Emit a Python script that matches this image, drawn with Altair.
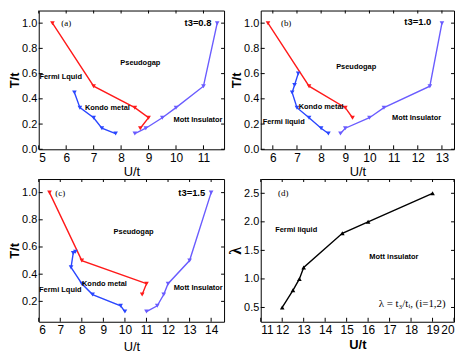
import altair as alt
import pandas as pd

FONT = "Liberation Sans"
SERIF = "Liberation Serif"
RED = "#ff1a1a"
BLUE = "#2a46ff"
PURPLE = "#6a5cff"

# ---------------- panel (a) t3=0.8 ----------------
a_red_x = [5.5, 7.0, 8.5, 9.0, 8.7]
a_red_y = [1.0, 0.5, 0.33, 0.25, 0.167]
a_blue_x = [6.3, 6.5, 7.0, 7.3, 7.8]
a_blue_y = [0.45, 0.33, 0.25, 0.167, 0.125]
a_pur_x = [8.5, 8.9, 9.5, 10.0, 11.0, 11.5]
a_pur_y = [0.125, 0.167, 0.25, 0.33, 0.5, 1.0]

# ---------------- panel (b) t3=1.0 ----------------
b_red_x = [5.8, 7.5, 9.0, 9.3]
b_red_y = [1.0, 0.5, 0.33, 0.25]
b_blue_x = [7.05, 6.9, 6.8, 7.0, 7.5, 8.0, 8.3]
b_blue_y = [0.6, 0.51, 0.45, 0.33, 0.25, 0.167, 0.125]
b_pur_x = [8.8, 9.0, 10.0, 10.6, 12.5, 13.0]
b_pur_y = [0.125, 0.167, 0.25, 0.33, 0.5, 1.0]

# ---------------- panel (c) t3=1.5 ----------------
c_red_x = [6.5, 8.0, 11.0, 10.8]
c_red_y = [1.0, 0.5, 0.33, 0.25]
c_blue_x = [7.7, 7.6, 7.5, 8.0, 8.5, 9.8, 10.0]
c_blue_y = [0.565, 0.555, 0.45, 0.33, 0.25, 0.167, 0.125]
c_pur_x = [11.0, 11.5, 11.8, 12.0, 13.0, 14.0]
c_pur_y = [0.125, 0.167, 0.25, 0.33, 0.5, 1.0]

# ---------------- panel (d) lambda ----------------
d_x = [12.0, 12.5, 12.8, 13.0, 14.8, 16.0, 19.0]
d_y = [0.5, 0.8, 1.0, 1.2, 1.8, 2.0, 2.5]

# tick values
a_xt = [5, 6, 7, 8, 9, 10, 11]
b_xt = [6, 7, 8, 9, 10, 11, 12, 13]
c_xt = [6, 7, 8, 9, 10, 11, 12, 13, 14]
d_xt = [11, 12, 13, 14, 15, 16, 17, 18, 19, 20]
ab_yt = [0.0, 0.2, 0.4, 0.6, 0.8, 1.0]
c_yt = [0.2, 0.4, 0.6, 0.8, 1.0]
d_yt = [0.5, 1.0, 1.5, 2.0, 2.5]

# region labels: (text, x, y)
a_labels = [("Pseudogap", 8.7, 0.68), ("Fermi Lquid", 5.8, 0.57),
            ("Kondo metal", 7.5, 0.33), ("Mott Insulator", 10.8, 0.23)]
b_labels = [("Pseudogap", 9.45, 0.65), ("Fermi liquid", 6.45, 0.22),
            ("Kondo metal", 8.0, 0.335), ("Mott Insulator", 11.95, 0.25)]
c_labels = [("Pseudogap", 10.4, 0.71), ("Fermi Lquid", 7.0, 0.28),
            ("Kondo metal", 9.05, 0.33), ("Mott Insulator", 13.4, 0.295)]
d_labels = [("Fermi liquid", 12.65, 1.85), ("Mott insulator", 17.2, 1.38)]

# parameter labels: (text, x, y)
a_param = ("t3=0.8", 10.8, 1.0)
b_param = ("t3=1.0", 12.0, 1.01)
c_param = ("t3=1.5", 13.1, 1.0)

tags = [("(a)", 6.0, 1.0), ("(b)", 6.55, 1.0), ("(c)", 7.0, 1.0), ("(d)", 12.05, 2.5)]


def text_layer(items, xenc, yenc, **kw):
    df = pd.DataFrame({"label": [t[0] for t in items], "x": [t[1] for t in items],
                       "y": [t[2] for t in items]})
    return alt.Chart(df).mark_text(color="black", **kw).encode(x=xenc, y=yenc, text="label:N")


def make_panel(series, xdom, ydom, xt, yt, yfmt, w, h, tag, labels, param=None,
               ytitle="T/t", ytfont=FONT, ytsize=13, xtitle_bold=False, xtitle_pad=2,
               shape="triangle-down", extra=None):
    xenc = alt.X("x:Q", scale=alt.Scale(domain=xdom, nice=False, zero=False),
                 axis=alt.Axis(values=xt, format="d", title="U/t",
                               titleFontWeight="bold" if xtitle_bold else "normal",
                               titlePadding=xtitle_pad, labelFontSize=12, labelPadding=3))
    yenc = alt.Y("y:Q", scale=alt.Scale(domain=ydom, nice=False, zero=False),
                 axis=alt.Axis(values=yt, format=yfmt, title=ytitle, titleFont=ytfont,
                               titleFontSize=ytsize, titlePadding=0, labelFontSize=11,
                               labelPadding=2))
    rows = []
    for name, xs, ys, col in series:
        for i, (xv, yv) in enumerate(zip(xs, ys)):
            rows.append({"x": xv, "y": yv, "s": name, "i": i})
    df = pd.DataFrame(rows)
    names = [s[0] for s in series]
    cols = [s[3] for s in series]
    lines = alt.Chart(df).mark_line(
        strokeWidth=1.4, clip=True,
        point=alt.OverlayMarkDef(shape=shape, filled=True, size=22)
    ).encode(x=xenc, y=yenc, order="i:Q",
             color=alt.Color("s:N", scale=alt.Scale(domain=names, range=cols), legend=None),
             detail="s:N")

    texts = text_layer(labels, xenc, yenc, font=FONT, fontWeight="bold", fontSize=7.5)
    tagt = text_layer([tag], xenc, yenc, font=SERIF, fontSize=9)

    xtdf = pd.DataFrame({"x": xt})
    ytdf = pd.DataFrame({"y": yt})
    tb = alt.Chart(xtdf).mark_rule(color="black", strokeWidth=1).encode(
        x=xenc, y=alt.value(h), y2=alt.value(h - 4))
    tt = alt.Chart(xtdf).mark_rule(color="black", strokeWidth=1).encode(
        x=xenc, y=alt.value(0), y2=alt.value(3))
    tl = alt.Chart(ytdf).mark_rule(color="black", strokeWidth=1).encode(
        y=yenc, x=alt.value(0), x2=alt.value(4))
    tr = alt.Chart(ytdf).mark_rule(color="black", strokeWidth=1).encode(
        y=yenc, x=alt.value(w), x2=alt.value(w - 3))
    layers = [tb, tt, tl, tr, lines, texts, tagt]
    if param is not None:
        layers.append(text_layer([param], xenc, yenc, font=FONT, fontWeight="bold",
                                 fontSize=9.5))
    if extra is not None:
        layers.append(text_layer([extra], xenc, yenc, font=SERIF, fontSize=11))
    return alt.layer(*layers).properties(width=w, height=h)


pa = make_panel([("fl", a_red_x, a_red_y, RED), ("km", a_blue_x, a_blue_y, BLUE),
                 ("mi", a_pur_x, a_pur_y, PURPLE)],
                [5, 11.75], [0, 1.1], a_xt, ab_yt, ".1f", 187, 140, tags[0], a_labels,
                param=a_param)
pb = make_panel([("fl", b_red_x, b_red_y, RED), ("km", b_blue_x, b_blue_y, BLUE),
                 ("mi", b_pur_x, b_pur_y, PURPLE)],
                [5.5, 13.5], [0, 1.1], b_xt, ab_yt, ".1f", 195, 140, tags[1], b_labels,
                param=b_param)
pc = make_panel([("fl", c_red_x, c_red_y, RED), ("km", c_blue_x, c_blue_y, BLUE),
                 ("mi", c_pur_x, c_pur_y, PURPLE)],
                [6, 14.6], [0.05, 1.1], c_xt, c_yt, ".1f", 187, 144, tags[2], c_labels,
                param=c_param, xtitle_pad=5)
pd_ = make_panel([("lam", d_x, d_y, "black")],
                 [11, 20], [0.25, 2.75], d_xt, d_yt, ".1f", 195, 144, tags[3], d_labels,
                 ytitle="λ", ytfont=SERIF, ytsize=16, xtitle_bold=True, xtitle_pad=3,
                 shape="triangle-up", extra=("λ = t₃/tᵢ, (i=1,2)", 18.05, 0.56))

chart = alt.concat(pa, pb, pc, pd_, columns=2, spacing={"row": 30, "column": 37},
                   bounds="flush").resolve_scale(
    x="independent", y="independent", color="independent"
).properties(
    padding=0, background="white"
).configure_axis(
    grid=False, ticks=False, domain=False, labelFont=FONT,
    labelColor="black", titleFont=FONT, titleFontSize=13, titleColor="black"
).configure_view(stroke="black", strokeWidth=1)

chart.save("out.html", embed_options={"renderer": "svg", "actions": False})
